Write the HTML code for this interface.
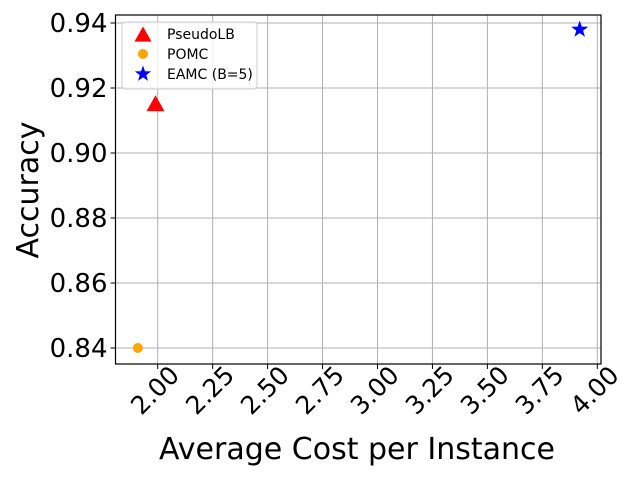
<!DOCTYPE html>
<html><head><meta charset="utf-8"><style>body{margin:0;background:#fff}svg{display:block;font-family:"DejaVu Sans","Liberation Sans",sans-serif}</style></head>
<body>
<svg id="chart" width="640" height="480" xmlns="http://www.w3.org/2000/svg"></svg>
<script>
const series = ["PseudoLB","POMC","EAMC (B=5)"];
const costs = [1.99, 1.91, 3.92];
const accs = [0.915, 0.840, 0.938];
const xTicks = [2.00,2.25,2.50,2.75,3.00,3.25,3.50,3.75,4.00];
const yTicks = [0.84,0.86,0.88,0.90,0.92,0.94];

const L=115.5,R=601,T=15,B=364;
const X=v=>157.7+(v-2)*219.8;
const Y=v=>348+(0.84-v)*3250;
const svg=document.getElementById('chart');
const NS='http://www.w3.org/2000/svg';
function mk(tag,attrs,name,txt){const e=document.createElementNS(NS,tag);for(const k in attrs)e.setAttribute(k,attrs[k]);


if(txt!==undefined)e.textContent=txt;svg.appendChild(e);return e;}
xTicks.forEach(t=>{const x=X(t);
mk('line',{x1:x,x2:x,y1:T,y2:B,stroke:'#b0b0b0','stroke-width':1},'x-gridline');
mk('line',{x1:x,x2:x,y1:B,y2:B+5,stroke:'#000'},'x-tick');
mk('text',{x:x-3,y:B+35,'font-size':25,'text-anchor':'middle',transform:`rotate(-45 ${x-3} ${B+26})`},'x-tick-label',t.toFixed(2));});
yTicks.forEach(t=>{const y=Y(t);
mk('line',{x1:L,x2:R,y1:y,y2:y,stroke:'#b0b0b0','stroke-width':1},'y-gridline');
mk('line',{x1:L-5,x2:L,y1:y,y2:y,stroke:'#000'},'y-tick');
mk('text',{x:L-8,y:y+9,'font-size':26,'text-anchor':'end'},'y-tick-label',t.toFixed(2));});
mk('rect',{x:L,y:T,width:R-L,height:B-T,fill:'none',stroke:'#000','stroke-width':1.2},'plot-frame');
function star(cx,cy,r){let p=[];for(let i=0;i<10;i++){const a=-Math.PI/2+i*Math.PI/5,rr=i%2?r*0.4:r;p.push((cx+rr*Math.cos(a)).toFixed(1)+','+(cy+rr*Math.sin(a)).toFixed(1));}return p.join(' ');}
function marker(i,cx,cy,s){
 if(i===0)return mk('polygon',{points:`${cx},${cy-9*s} ${cx-9*s},${cy+7*s} ${cx+9*s},${cy+7*s}`,fill:'red'},'pseudolb-marker');
 if(i===1)return mk('circle',{cx:cx,cy:cy,r:5*s,fill:'orange'},'pomc-marker');
 return mk('polygon',{points:star(cx,cy,9*s),fill:'blue'},'eamc-marker');}
costs.forEach((c,i)=>marker(i,X(c),Y(accs[i]),1));
mk('rect',{x:122,y:22,width:135,height:67,rx:3,fill:'#fff','fill-opacity':0.8,stroke:'#ccc'},'legend-box');
series.forEach((s,i)=>{const y=34+i*20;marker(i,143,y+(i===0?1:0),i===1?1:0.95);
mk('text',{x:167,y:y+5,'font-size':14},'legend-entry',s);});
mk('text',{x:357,y:459,'font-size':30,'text-anchor':'middle'},'x-axis-title','Average Cost per Instance');
mk('text',{x:38,y:190,'font-size':30,'text-anchor':'middle',transform:'rotate(-90 38 190)'},'y-axis-title','Accuracy');
</script>
</body></html>
